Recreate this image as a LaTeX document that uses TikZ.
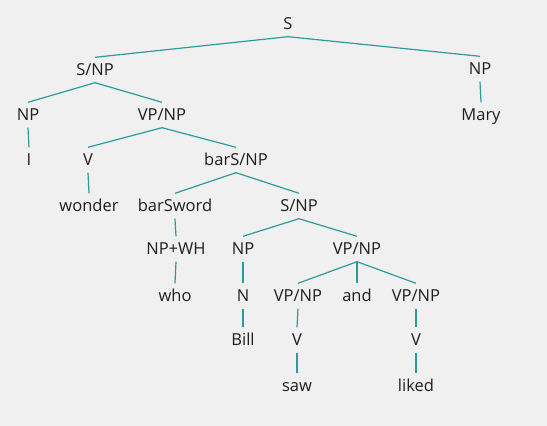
\documentclass[tikz,border=0pt]{standalone}
\usepackage{fontspec}
\setmainfont{Open Sans}
\usepackage{tikz}
\definecolor{treeline}{HTML}{2B9B9B}
\definecolor{treetext}{HTML}{1E1E1E}
\definecolor{treebg}{HTML}{F0F0F0}
\tikzset{
  lbl/.style={inner sep=0pt, minimum height=25pt, text height=11.7pt, text depth=0pt,
    text=treetext, font=\fontsize{16.5}{18}\selectfont},
  edge/.style={draw=treeline, line width=1.2pt}
}

\begin{document}
\begin{tikzpicture}[x=1pt, y=-1pt]
        % background and frame
        \fill[treebg] (0,0) rectangle (547,426);
        \useasboundingbox (0,0) rectangle (547,426);
        % labels
        \node[lbl] (s) at (288,24) {S};
        \node[lbl] (snpa) at (95,70) {S/NP};
        \node[lbl] (npa) at (480,69) {NP};
        \node[lbl] (mary) at (481,115) {Mary};
        \node[lbl] (npb) at (28,115) {NP};
        \node[lbl] (vpnpa) at (162,115) {VP/NP};
        \node[lbl] (i) at (29,160) {I};
        \node[lbl] (va) at (88,160) {V};
        \node[lbl] (barsnp) at (236,160) {barS/NP};
        \node[lbl] (wonder) at (89,206) {wonder};
        \node[lbl] (barsword) at (175,206) {barSword};
        \node[lbl] (snpb) at (299,206) {S/NP};
        \node[lbl] (npwh) at (176,249) {NP+WH};
        \node[lbl] (npc) at (243,249) {NP};
        \node[lbl] (vpnpb) at (357,249) {VP/NP};
        \node[lbl] (who) at (175,296) {who};
        \node[lbl] (n) at (243,296) {N};
        \node[lbl] (vpnpc) at (298,296) {VP/NP};
        \node[lbl] (and) at (357,296) {and};
        \node[lbl] (vpnpd) at (416,296) {VP/NP};
        \node[lbl] (bill) at (243,340) {Bill};
        \node[lbl] (vb) at (297,340) {V};
        \node[lbl] (vc) at (416,340) {V};
        \node[lbl] (saw) at (297,386) {saw};
        \node[lbl] (liked) at (416,386) {liked};
        % branches
        \draw[edge] (s.south) -- (snpa.north);
        \draw[edge] (s.south) -- (npa.north);
        \draw[edge] (npa.south) -- (mary.north);
        \draw[edge] (snpa.south) -- (npb.north);
        \draw[edge] (snpa.south) -- (vpnpa.north);
        \draw[edge] (npb.south) -- (i.north);
        \draw[edge] (vpnpa.south) -- (va.north);
        \draw[edge] (vpnpa.south) -- (barsnp.north);
        \draw[edge] (va.south) -- (wonder.north);
        \draw[edge] (barsnp.south) -- (barsword.north);
        \draw[edge] (barsnp.south) -- (snpb.north);
        \draw[edge] (barsword.south) -- (npwh.north);
        \draw[edge] (npwh.south) -- (who.north);
        \draw[edge] (snpb.south) -- (npc.north);
        \draw[edge] (snpb.south) -- (vpnpb.north);
        \draw[edge] (npc.south) -- (n.north);
        \draw[edge] (n.south) -- (bill.north);
        \draw[edge] (vpnpb.south) -- (vpnpc.north);
        \draw[edge] (vpnpb.south) -- (and.north);
        \draw[edge] (vpnpb.south) -- (vpnpd.north);
        \draw[edge] (vpnpc.south) -- (vb.north);
        \draw[edge] (vb.south) -- (saw.north);
        \draw[edge] (vpnpd.south) -- (vc.north);
        \draw[edge] (vc.south) -- (liked.north);
\end{tikzpicture}
\end{document}
